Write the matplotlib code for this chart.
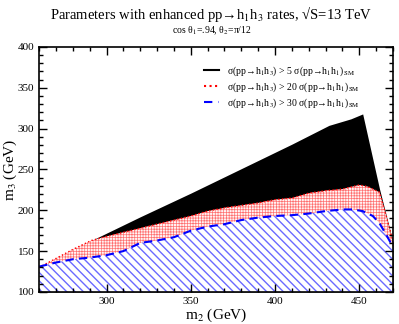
import matplotlib
matplotlib.use("Agg")
import matplotlib.pyplot as plt
from matplotlib.ticker import MultipleLocator
from matplotlib.lines import Line2D

plt.rcParams['font.family'] = ['Liberation Serif', 'DejaVu Serif']
plt.rcParams['mathtext.fontset'] = 'stix'

# sigma > 5 sigma_SM region boundary
m2_5 = [260, 291, 320, 350, 380, 410, 432, 445, 452, 462, 470]
m3_5 = [130, 163, 192, 221, 251, 281, 304, 312, 318, 226, 161]

# sigma > 20 sigma_SM region boundary
m2_20 = [260, 270, 280, 291, 300, 310, 320, 330, 340, 350, 360, 370, 380, 390,
         400, 410, 420, 430, 440, 450, 455, 462, 466, 470]
m3_20 = [130, 141, 152, 163, 168, 173, 178, 183, 188, 193, 199, 203, 206, 209,
         213, 215, 221, 224, 226, 231, 229, 222, 193, 161]

# sigma > 30 sigma_SM region boundary
m2_30 = [260, 270, 280, 290, 300, 310, 320, 330, 340, 350, 360, 370, 380, 390,
         400, 410, 420, 430, 440, 446, 452, 458, 462, 466, 470]
m3_30 = [131, 136, 140, 142, 145, 150, 160, 163, 167, 175, 180, 183, 188, 191,
         193, 194, 196, 199, 201, 201, 199, 193, 184, 170, 155]

labels = ['σ(pp→h$_1$h$_3$) > 5 σ(pp→h$_1$h$_1$)$_{\\rm SM}$',
          'σ(pp→h$_1$h$_3$) > 20 σ(pp→h$_1$h$_1$)$_{\\rm SM}$',
          'σ(pp→h$_1$h$_3$) > 30 σ(pp→h$_1$h$_1$)$_{\\rm SM}$']

fig = plt.figure(figsize=(3.99, 3.24), dpi=100)
ax = fig.add_axes([0.098, 0.099, 0.887, 0.756])

ax.fill_between(m2_5, 100, m3_5, color='black', lw=0)

with plt.rc_context({'hatch.linewidth': 0.5}):
    red = ax.fill_between(m2_20, 100, m3_20, facecolor='#fff4f4', edgecolor='#ff7070',
                          hatch='++++++', lw=0)
try:
    red.set_hatch_linewidth(0.5)
except Exception:
    pass

with plt.rc_context({'hatch.linewidth': 1.0}):
    blue = ax.fill_between(m2_30, 100, m3_30, facecolor='white', edgecolor='#6a6aff',
                           hatch='\\\\\\\\', lw=0)
try:
    blue.set_hatch_linewidth(1.0)
except Exception:
    pass

ax.plot(m2_20, m3_20, color='red', ls=':', lw=1)
ax.plot(m2_30, m3_30, color='blue', ls=(0, (4, 2.5)), lw=1.5)

ax.set_xlim(260, 470)
ax.set_ylim(100, 400)
ax.xaxis.set_major_locator(MultipleLocator(50))
ax.xaxis.set_minor_locator(MultipleLocator(10))
ax.yaxis.set_major_locator(MultipleLocator(50))
ax.yaxis.set_minor_locator(MultipleLocator(10))
ax.tick_params(which='both', direction='in', top=True, right=True, labelsize=8)
ax.tick_params(which='major', length=6, width=1)
ax.tick_params(which='minor', length=3, width=1)
for s in ax.spines.values():
    s.set_linewidth(1.2)
ax.set_axisbelow(False)

ax.set_xlabel(r'm$_2$ (GeV)', fontsize=11)
ax.set_ylabel(r'm$_3$ (GeV)', fontsize=11)
ax.xaxis.set_label_coords(0.5, -0.06)
ax.yaxis.set_label_coords(-0.058, 0.5)

handles = [Line2D([], [], color='black', lw=1.5),
           Line2D([], [], color='red', ls=':', lw=1.5),
           Line2D([], [], color='blue', ls=(0, (4, 3)), lw=1.5)]
ax.legend(handles, labels, loc='upper right', bbox_to_anchor=(0.93, 0.965),
          frameon=False, fontsize=7, handlelength=1.5, labelspacing=0.25,
          handletextpad=0.8)

fig.text(0.53, 0.958, 'Parameters with enhanced pp→h$_1$h$_3$ rates, √S=13 TeV',
         ha='center', va='center', fontsize=10.5)
fig.text(0.53, 0.905, r'cos θ$_1$=.94, θ$_2$=π/12',
         ha='center', va='center', fontsize=7)

fig.savefig('out.png', dpi=100)
